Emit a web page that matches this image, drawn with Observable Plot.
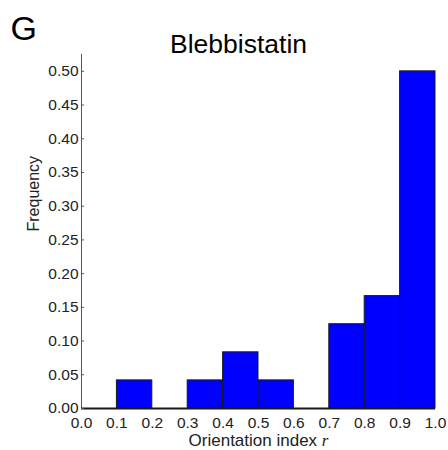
<!DOCTYPE html>
<html>
<head>
<meta charset="utf-8">
<script src="https://cdn.jsdelivr.net/npm/d3@7"></script>
<script src="https://cdn.jsdelivr.net/npm/@observablehq/plot@0.6"></script>
<style>
  html, body { margin: 0; padding: 0; background: #fff; }
  #chart svg { display: block; }
</style>
</head>
<body>
<div id="chart"></div>
<script>
// Histogram of orientation index r under blebbistatin treatment
const binStart = [0.0, 0.1, 0.2, 0.3, 0.4, 0.5, 0.6, 0.7, 0.8, 0.9];
const binEnd   = [0.1, 0.2, 0.3, 0.4, 0.5, 0.6, 0.7, 0.8, 0.9, 1.0];
const frequency = [0, 0.0417, 0, 0.0417, 0.0833, 0.0417, 0, 0.125, 0.1667, 0.5];
const xTicks = [0.0, 0.1, 0.2, 0.3, 0.4, 0.5, 0.6, 0.7, 0.8, 0.9, 1.0];
const yTicks = [0.00, 0.05, 0.10, 0.15, 0.20, 0.25, 0.30, 0.35, 0.40, 0.45, 0.50];
const title = "Blebbistatin";
const panelLetter = "G";
const xLabel = "Orientation index";
const xLabelVar = "r";
const yLabel = "Frequency";

const bins = binStart.map((x1, i) => ({x1, x2: binEnd[i], y: frequency[i]}))
  .filter(d => d.y > 0);

const font = "'Liberation Sans', Arial, Helvetica, sans-serif";

const chart = Plot.plot({
  width: 448,
  height: 450,
  marginLeft: 81,
  marginRight: 13,
  marginTop: 54,
  marginBottom: 42,
  style: {fontFamily: font, fontSize: "15px", color: "#222", background: "#fff"},
  x: {domain: [0, 1], ticks: xTicks, tickFormat: d3.format(".1f")},
  y: {domain: [0, 0.525], ticks: yTicks, tickFormat: d3.format(".2f")},
  marks: [
    Plot.rectY(bins, {x1: "x1", x2: "x2", y: "y", fill: "#0000ff", stroke: "#1a1a1a", strokeWidth: 1}),
    Plot.ruleX([0], {stroke: "#555", strokeWidth: 1}),
    Plot.ruleY([0], {stroke: "#1a1a1a", strokeWidth: 2}),
    Plot.axisY({ticks: yTicks, tickFormat: d3.format(".2f"), tickSize: -3, tickPadding: 6,
      stroke: "#555", fontSize: 15.5, label: null}),
    Plot.axisX({ticks: xTicks, tickFormat: d3.format(".1f"), tickSize: 0, tickPadding: 8,
      label: null, fontSize: 15.5}),
    Plot.text([yLabel], {frameAnchor: "left", dx: -54, rotate: -90, lineAnchor: "top",
      fontSize: 16, fill: "#222"}),
    Plot.text([xLabel], {frameAnchor: "bottom", dy: 37, lineAnchor: "bottom",
      fontSize: 17, fill: "#222", className: "xlabel"}),
    Plot.text([title], {frameAnchor: "top", dx: -20, dy: -2, lineAnchor: "bottom",
      fontSize: 26.5, fill: "#000"}),
    Plot.text([panelLetter], {frameAnchor: "top-left", textAnchor: "start", dx: -71, dy: -15,
      lineAnchor: "bottom", fontSize: 34, fill: "#000"})
  ]
});

// Append the italic variable name to the x-axis label
const lab = d3.select(chart).select(".xlabel text");
lab.text(null);
lab.append("tspan").text(xLabel + " ");
lab.append("tspan").attr("font-style", "italic")
  .attr("font-family", "'Liberation Serif', 'Times New Roman', serif").text(xLabelVar);

document.getElementById("chart").appendChild(chart);
</script>
</body>
</html>
